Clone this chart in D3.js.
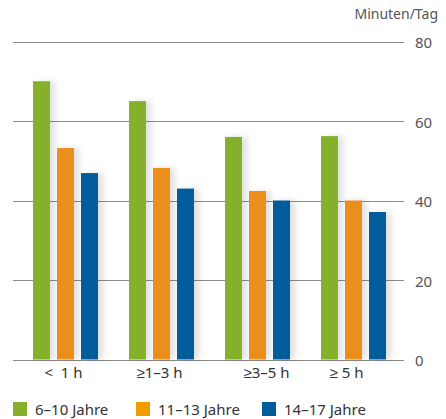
<!DOCTYPE html>
<html>
<head>
<meta charset="utf-8">
<script src="https://cdn.jsdelivr.net/npm/d3@7"></script>
<style>
  html, body { margin: 0; padding: 0; background: #fff; }
  svg { display: block; font-family: "Noto Sans", "Open Sans", sans-serif; }
</style>
</head>
<body>
<svg id="chart" width="446" height="419"></svg>
<script>
// Screen time classes (hours per day)
const categories = ["<  1 h", "≥1–3 h", "≥3–5 h", "≥ 5 h"];
// Age groups
const seriesNames = ["6–10 Jahre", "11–13 Jahre", "14–17 Jahre"];
// Minutes per day, one array per age group, in category order
const values6to10 = [70, 65, 56, 56.2];
const values11to13 = [53.2, 48.2, 42.4, 40];
const values14to17 = [46.9, 43, 40, 37.1];
const yTicks = [0, 20, 40, 60, 80];
const unitLabel = "Minuten/Tag";

const barColors = ["#86b02a", "#ec8e1f", "#005c9a"];
const legendColors = ["#86b02a", "#f39c00", "#005c9a"];
// horizontal nudge of each category label relative to its group centre
const labelNudge = [-2, -2, 9, -7];

const seriesValues = [values6to10, values11to13, values14to17];

const svg = d3.select("#chart");

// Soft shadow falling to the right of each bar
const defs = svg.append("defs");
const f = defs.append("filter").attr("id", "barShadow")
  .attr("x", "-20%").attr("y", "-5%").attr("width", "180%").attr("height", "110%");
f.append("feDropShadow").attr("dx", 5).attr("dy", 0)
  .attr("stdDeviation", 3).attr("flood-color", "#000").attr("flood-opacity", 0.12);

const y = d3.scaleLinear().domain([0, 80]).range([359.5, 41.5]);
const x0 = d3.scaleBand().domain(categories).range([17.5, 401.5]).padding(0);
const x1 = d3.scaleBand().domain(seriesNames).range([15.5, 80.5])
  .paddingInner(7 / 24).paddingOuter(0);

// Gridlines and right-hand value axis
const grid = svg.append("g");
grid.selectAll("line").data(yTicks).join("line")
  .attr("x1", 13).attr("x2", 404)
  .attr("y1", d => Math.round(y(d)) + 0.5).attr("y2", d => Math.round(y(d)) + 0.5)
  .attr("stroke", "#8a8a8a").attr("stroke-width", 1.2);

const yAxis = d3.axisRight(y).tickValues(yTicks).tickSize(0).tickPadding(0);
svg.append("g")
  .attr("transform", "translate(415,0)")
  .call(yAxis)
  .call(g => g.select(".domain").remove())
  .call(g => g.selectAll("text")
    .attr("fill", "#555").attr("font-size", 15)
    .attr("font-family", "'Noto Sans', sans-serif")
    .attr("dy", "0.4em"));

svg.append("text")
  .attr("x", 438).attr("y", 19)
  .attr("text-anchor", "end")
  .attr("fill", "#555").attr("font-size", 14)
  .text(unitLabel);

// Bars
const groups = svg.append("g").selectAll("g").data(categories).join("g")
  .attr("transform", d => `translate(${x0(d)},0)`);

groups.selectAll("rect")
  .data((c, ci) => seriesNames.map((s, si) => ({ s, si, v: seriesValues[si][ci] })))
  .join("rect")
  .attr("x", d => x1(d.s))
  .attr("width", x1.bandwidth())
  .attr("y", d => y(d.v))
  .attr("height", d => y(0) - y(d.v))
  .attr("fill", d => barColors[d.si])
  .attr("filter", "url(#barShadow)");

// Category axis labels
const xAxis = d3.axisBottom(x0).tickSize(0).tickPadding(0);
svg.append("g")
  .attr("transform", "translate(0,367)")
  .call(xAxis)
  .call(g => g.select(".domain").remove())
  .call(g => g.selectAll("text")
    .attr("fill", "#333").attr("font-size", 15)
    .attr("font-family", "'Noto Sans', sans-serif")
    .attr("dy", "0.75em")
    .attr("dx", (d, i) => labelNudge[i])
    .style("white-space", "pre"));

// Legend
const legendX = [13, 136, 262];
const legend = svg.append("g").selectAll("g").data(seriesNames).join("g")
  .attr("transform", (d, i) => `translate(${legendX[i]},402)`);
legend.append("rect").attr("width", 14).attr("height", 14)
  .attr("fill", (d, i) => legendColors[i]);
legend.append("text").attr("x", 22).attr("y", 12.5)
  .attr("fill", "#333").attr("font-size", 15)
  .text(d => d);
</script>
</body>
</html>
